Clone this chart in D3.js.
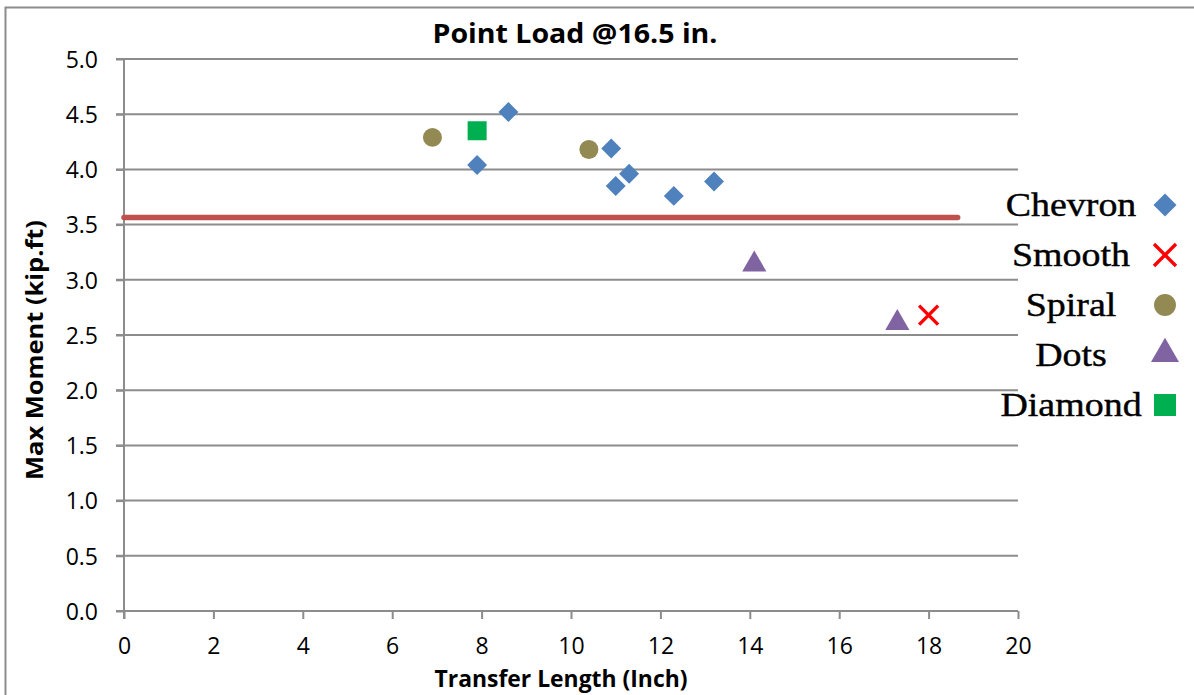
<!DOCTYPE html>
<html>
<head>
<meta charset="utf-8">
<script src="https://cdn.jsdelivr.net/npm/d3@7"></script>
<style>
    body { margin: 0; background: #fff; }
    svg { display: block; }
    text { font-family: "Open Sans", "Noto Sans", sans-serif; fill: #000; }
    .legend text { font-family: "Liberation Serif", "DejaVu Serif", serif; }
</style>
</head>
<body>
<svg class="chart" width="1194" height="695"></svg>
<script>
// data
var chevronX = [7.9, 8.6, 10.9, 11.0, 11.3, 12.3, 13.2];
var chevronY = [4.04, 4.52, 4.19, 3.85, 3.96, 3.76, 3.89];
var smoothX = [18.0];
var smoothY = [2.68];
var spiralX = [6.9, 10.4];
var spiralY = [4.29, 4.18];
var dotsX = [14.1, 17.3];
var dotsY = [3.13, 2.60];
var diamondX = [7.9];
var diamondY = [4.35];
var refLineX = [0, 18.65];
var refLineY = [3.565, 3.565];

var xTicks = [0, 2, 4, 6, 8, 10, 12, 14, 16, 18, 20];
var yTicks = [0, 0.5, 1, 1.5, 2, 2.5, 3, 3.5, 4, 4.5, 5];

var legendNames = ["Chevron", "Smooth", "Spiral", "Dots", "Diamond"];

var svgW = 1194, svgH = 695;
var plotLeft = 124, plotRight = 1018, plotTop = 59, plotBottom = 611;
var gridColor = "#8c8c8c";

var series = [
    { name: "Chevron", xs: chevronX, ys: chevronY, shape: "diamond", color: "#4f81bd" },
    { name: "Smooth", xs: smoothX, ys: smoothY, shape: "cross", color: "#ff0000" },
    { name: "Spiral", xs: spiralX, ys: spiralY, shape: "circle", color: "#938953" },
    { name: "Dots", xs: dotsX, ys: dotsY, shape: "triangle", color: "#8064a2" },
    { name: "Diamond", xs: diamondX, ys: diamondY, shape: "square", color: "#00b050" }
];

var svg = d3.select("svg.chart");

var x = d3.scaleLinear().domain([0, 20]).range([plotLeft, plotRight]);
var y = d3.scaleLinear().domain([0, 5]).range([plotBottom, plotTop]);

// outer chart border
svg.append("rect")
    .attr("x", 5.5).attr("y", 7.5)
    .attr("width", svgW + 10).attr("height", svgH + 10)
    .attr("fill", "none")
    .attr("stroke", gridColor)
    .attr("stroke-width", 2);

// horizontal gridlines with ticks on the left
svg.append("g").selectAll("line.grid")
    .data(yTicks.filter(function (d) { return d > 0; }))
    .enter().append("line")
    .classed("grid", true)
    .attr("x1", plotLeft - 8).attr("x2", plotRight)
    .attr("y1", function (d) { return y(d); })
    .attr("y2", function (d) { return y(d); })
    .attr("stroke", gridColor)
    .attr("stroke-width", 2);

// y axis
var yAxis = svg.append("g")
    .attr("transform", "translate(" + plotLeft + ",0)")
    .call(d3.axisLeft(y).tickValues(yTicks).tickSize(8).tickPadding(18)
        .tickFormat(d3.format(".1f")));
yAxis.attr("font-size", null).attr("font-family", null);
yAxis.selectAll("path, line").attr("stroke", gridColor).attr("stroke-width", 2);
yAxis.select("path.domain").attr("d", "M0," + plotTop + "V" + (plotBottom + 8));
yAxis.selectAll("text").style("font-size", "23px").attr("dy", "0.36em");

// x axis
var xAxis = svg.append("g")
    .attr("transform", "translate(0," + plotBottom + ")")
    .call(d3.axisBottom(x).tickValues(xTicks).tickSize(8).tickPadding(19)
        .tickFormat(d3.format("d")));
xAxis.attr("font-size", null).attr("font-family", null);
xAxis.selectAll("path, line").attr("stroke", gridColor).attr("stroke-width", 2);
xAxis.select("path.domain").attr("d", "M" + (plotLeft - 8) + ",0H" + plotRight);
xAxis.selectAll("text").style("font-size", "23px");

// reference line
var line = d3.line()
    .x(function (d) { return x(d[0]); })
    .y(function (d) { return y(d[1]); });
svg.append("path")
    .datum(d3.zip(refLineX, refLineY))
    .attr("d", line)
    .attr("fill", "none")
    .attr("stroke", "#c0504d")
    .attr("stroke-width", 5.5)
    .attr("stroke-linecap", "round");

function drawMarker(g, shape, color, size) {
    if (shape === "cross") {
        var s = size * 0.5;
        g.append("path")
            .attr("d", "M" + (-s) + "," + (-s) + "L" + s + "," + s + "M" + s + "," + (-s) + "L" + (-s) + "," + s)
            .attr("stroke", color)
            .attr("stroke-width", 3.4)
            .attr("fill", "none");
        return;
    }
    var symbol = {
        diamond: d3.symbolSquare,
        circle: d3.symbolCircle,
        triangle: d3.symbolTriangle,
        square: d3.symbolSquare
    }[shape];
    var area = {
        diamond: size * size * 0.55,
        circle: size * size * 0.78,
        triangle: size * size * 0.7,
        square: size * size
    }[shape];
    var p = g.append("path")
        .attr("d", d3.symbol().type(symbol).size(area)())
        .attr("fill", color);
    if (shape === "diamond") p.attr("transform", "rotate(45)");
    if (shape === "triangle") p.attr("transform", "translate(0,-1)");
}

// points
series.forEach(function (s) {
    var pts = d3.zip(s.xs, s.ys);
    svg.append("g").selectAll("g.point")
        .data(pts)
        .enter().append("g")
        .classed("point", true)
        .attr("transform", function (d) { return "translate(" + x(d[0]) + "," + y(d[1]) + ")"; })
        .each(function () { drawMarker(d3.select(this), s.shape, s.color, 19); });
});

// title and axis labels
svg.append("text")
    .attr("x", 575).attr("y", 43)
    .attr("text-anchor", "middle")
    .attr("textLength", 285).attr("lengthAdjust", "spacingAndGlyphs")
    .style("font-size", "26px").style("font-weight", "bold")
    .text("Point Load @16.5 in.");

svg.append("text")
    .attr("x", 561).attr("y", 687)
    .attr("text-anchor", "middle")
    .attr("textLength", 253).attr("lengthAdjust", "spacingAndGlyphs")
    .style("font-size", "23px").style("font-weight", "bold")
    .text("Transfer Length (Inch)");

svg.append("text")
    .attr("transform", "translate(43,350) rotate(-90)")
    .attr("text-anchor", "middle")
    .attr("textLength", 260).attr("lengthAdjust", "spacingAndGlyphs")
    .style("font-size", "24px").style("font-weight", "bold")
    .text("Max Moment (kip.ft)");

// legend (text in the reference is stretched sideways)
var legendY = d3.scalePoint().domain(legendNames).range([205, 405]);
var legend = svg.append("g").classed("legend", true);
var items = legend.selectAll("g.item")
    .data(series)
    .enter().append("g")
    .classed("item", true)
    .attr("transform", function (d) { return "translate(0," + legendY(d.name) + ")"; });
items.append("g")
    .attr("transform", "translate(1071,11) scale(1.15,1)")
    .append("text")
    .attr("text-anchor", "middle")
    .style("font-size", "33px")
    .style("stroke", "#000")
    .style("stroke-width", 0.4)
    .text(function (d) { return d.name; });
items.each(function (d) {
    var g = d3.select(this).append("g").attr("transform", "translate(1165,0)");
    drawMarker(g, d.shape, d.color, 22);
});
</script>
</body>
</html>
